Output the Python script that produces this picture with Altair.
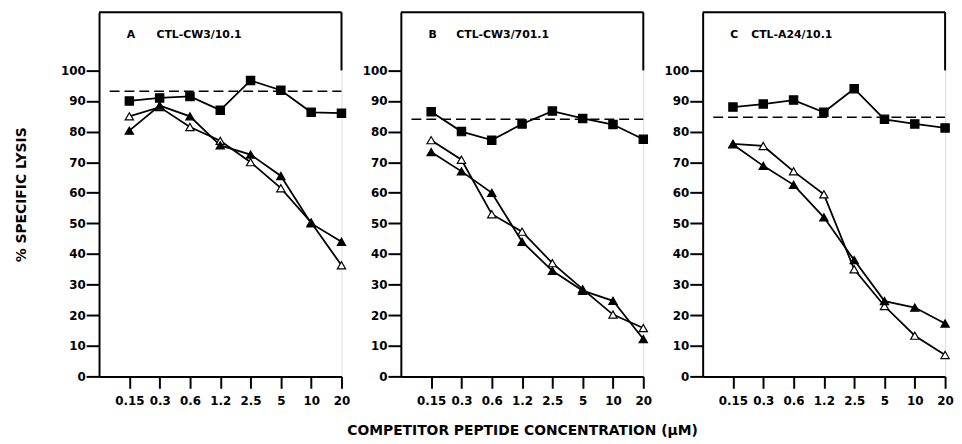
import altair as alt
import pandas as pd

# ---- data ----
conc_labels = ["0.15", "0.3", "0.6", "1.2", "2.5", "5", "10", "20"]
conc_pos = [1, 2, 3, 4, 5, 6, 7, 8]
panel_letters = ["A", "B", "C"]
cell_lines = ["CTL-CW3/10.1", "CTL-CW3/701.1", "CTL-A24/10.1"]
series_names = ["control", "open", "filled"]

A_square = [90.0, 91.0, 91.5, 87.0, 96.7, 93.5, 86.3, 86.0]
A_open = [85.0, 88.0, 81.5, 77.0, 70.0, 61.5, 50.3, 36.3]
A_filled = [80.3, 88.5, 85.0, 75.5, 72.5, 65.5, 50.0, 44.0]

B_square = [86.5, 80.0, 77.2, 82.5, 86.7, 84.3, 82.3, 77.5]
B_open = [77.2, 70.8, 53.0, 47.3, 37.0, 28.5, 20.2, 15.8]
B_filled = [73.3, 67.0, 60.0, 44.0, 34.5, 28.0, 24.7, 12.2]

C_square = [88.0, 89.0, 90.3, 86.3, 94.0, 84.0, 82.5, 81.2]
C_open = [76.0, 75.3, 67.0, 59.5, 35.0, 23.0, 13.3, 7.0]
C_filled = [75.8, 68.8, 62.6, 52.0, 38.0, 24.6, 22.5, 17.3]

dash_levels = [93.2, 84.0, 84.7]

y_ticks = [0, 10, 20, 30, 40, 50, 60, 70, 80, 90, 100]

# ---- styling ----
FONT = "DejaVu Sans"
W, H = 245, 368
title_offsets = [58, 56, 49]

label_expr = "[" + ",".join("'" + s + "'" for s in [""] + conc_labels) + "][datum.value]"


def panel(i, sq, op, fi, dash):
    rows = []
    for name, vals in zip(series_names, [sq, op, fi]):
        for p, v in zip(conc_pos, vals):
            rows.append({"pos": p, "lysis": v, "series": name})
    df = pd.DataFrame(rows)

    xscale = alt.Scale(domain=[0, 8], nice=False, zero=False)
    yscale = alt.Scale(domain=[0, 119], nice=False)

    xaxis_kw = dict(
        values=conc_pos, labelExpr=label_expr, grid=False,
        domainColor="black", domainWidth=2, tickColor="black", tickWidth=2,
        tickSize=12, labelFont=FONT, labelFontWeight="bold", labelFontSize=12,
        labelColor="black", labelPadding=7, labelOverlap=False, labelFlush=False,
    )
    if i == 1:
        xaxis = alt.Axis(title="COMPETITOR PEPTIDE CONCENTRATION (\u00b5M)",
                         titleFont=FONT, titleFontWeight="bold", titleFontSize=14,
                         titleColor="black", titlePadding=18, **xaxis_kw)
    else:
        xaxis = alt.Axis(title=None, **xaxis_kw)

    yaxis_kw = dict(
        values=y_ticks, grid=False, domainColor="black", domainWidth=2,
        tickColor="black", tickWidth=2, tickSize=13, labelFont=FONT,
        labelFontWeight="bold", labelFontSize=12, labelColor="black",
        labelPadding=1, labelOverlap=False, labelFlush=False,
    )
    if i == 0:
        yaxis = alt.Axis(title="% SPECIFIC LYSIS", titleFont=FONT,
                         titleFontWeight="bold", titleFontSize=14,
                         titleColor="black", titlePadding=32, **yaxis_kw)
    else:
        yaxis = alt.Axis(title=None, **yaxis_kw)

    x = alt.X("pos:Q", scale=xscale, axis=xaxis)
    y = alt.Y("lysis:Q", scale=yscale, axis=yaxis)

    base = alt.Chart(df)
    lines = base.mark_line(color="black", strokeWidth=1.8).encode(
        x=x, y=y, detail="series:N")
    points = base.mark_point(filled=True, stroke="black", strokeWidth=1.2,
                             size=70, opacity=1).encode(
        x=x, y=y,
        shape=alt.Shape("series:N", scale=alt.Scale(
            domain=series_names, range=["square", "triangle-up", "triangle-up"]),
            legend=None),
        fill=alt.Fill("series:N", scale=alt.Scale(
            domain=series_names, range=["black", "white", "black"]),
            legend=None),
    )

    dash_df = pd.DataFrame({"pos": [0.35], "pos2": [8.0], "lysis": [dash]})
    dash_rule = alt.Chart(dash_df).mark_rule(
        color="black", strokeWidth=1.5, strokeDash=[10, 5]).encode(
        x=x, x2="pos2:Q", y=y)

    border_df = pd.DataFrame({"pos": [8], "lysis": [119], "bottom": [100]})
    right_border = alt.Chart(border_df).mark_rule(
        color="black", strokeWidth=2).encode(x=x, y=y, y2="bottom:Q")
    top_border = alt.Chart(border_df).mark_rule(
        color="black", strokeWidth=2).encode(
        x=alt.value(0), x2=alt.value(W), y=alt.value(0))

    letter = alt.Chart(border_df).mark_text(
        align="left", baseline="middle", font=FONT, fontWeight="bold",
        fontSize=11, color="black").encode(
        x=alt.value(28), y=alt.value(23), text=alt.value(panel_letters[i]))
    name = alt.Chart(border_df).mark_text(
        align="left", baseline="middle", font=FONT, fontWeight="bold",
        fontSize=11, color="black").encode(
        x=alt.value(title_offsets[i]), y=alt.value(23),
        text=alt.value(cell_lines[i]))

    return alt.layer(lines, dash_rule, points, top_border, right_border,
                     letter, name).properties(width=W, height=H)


chart = alt.hconcat(
    panel(0, A_square, A_open, A_filled, dash_levels[0]),
    panel(1, B_square, B_open, B_filled, dash_levels[1]),
    panel(2, C_square, C_open, C_filled, dash_levels[2]),
    spacing=60, bounds="flush",
).properties(
    padding={"left": 6, "top": 0, "right": 0, "bottom": 0}
).configure_view(stroke=None).configure(background="white")

chart.save("out.html", embed_options={"renderer": "svg", "actions": False})
